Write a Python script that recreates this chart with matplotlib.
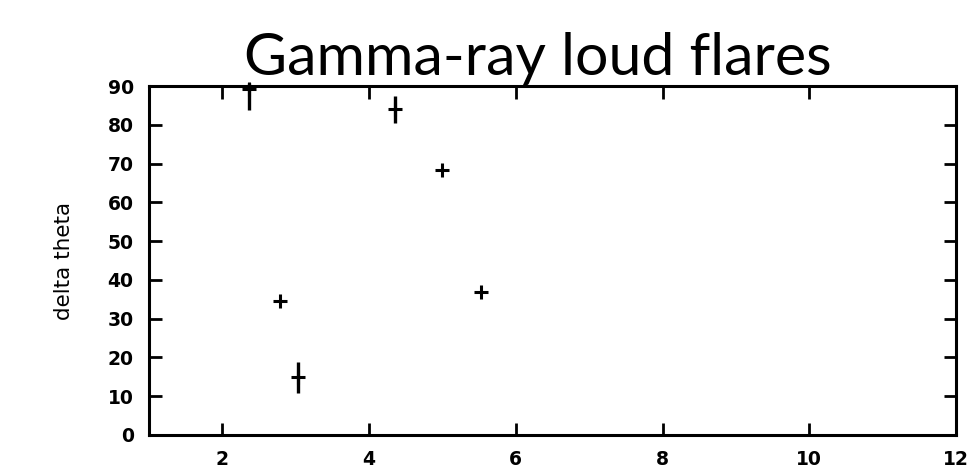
import matplotlib.pyplot as plt

# flare offsets and angle change, with asymmetric vertical errors (0 = no bar)
offset = [2.37, 4.35, 5.0, 2.79, 3.03, 5.53]
delta_theta = [89.3, 84.0, 68.3, 34.6, 14.9, 37.0]
err_low = [5.5, 3.6, 0.0, 0.0, 4.2, 0.0]
err_high = [1.5, 3.4, 0.0, 0.0, 4.0, 0.0]

x_ticks = [2, 4, 6, 8, 10, 12]
y_ticks = [0, 10, 20, 30, 40, 50, 60, 70, 80, 90]

fig = plt.figure(figsize=(9.67, 4.70), dpi=100)
ax = fig.add_axes([0.154, 0.0745, 0.8346, 0.7425])

ax.errorbar(offset, delta_theta, yerr=[err_low, err_high], fmt="+", color="black",
            ms=10, mew=2.2, elinewidth=2.4, capsize=0, clip_on=False)

ax.set_xlim(1, 12)
ax.set_ylim(0, 90)
ax.set_xticks(x_ticks)
ax.set_yticks(y_ticks)
ax.tick_params(direction="in", length=9, width=2, top=True, right=True,
               labelsize=13.5, pad=11)
for lab in ax.get_xticklabels() + ax.get_yticklabels():
    lab.set_fontweight("bold")
    lab.set_family("DejaVu Sans")
for s in ax.spines.values():
    s.set_linewidth(2.2)

ax.set_ylabel("delta theta", fontsize=15.5, family="DejaVu Sans", labelpad=24)

fig.text(0.556, 0.84, "Gamma-ray loud flares", family="Lato", fontsize=42.5,
         ha="center", va="baseline")

fig.savefig("out.png", dpi=100)
